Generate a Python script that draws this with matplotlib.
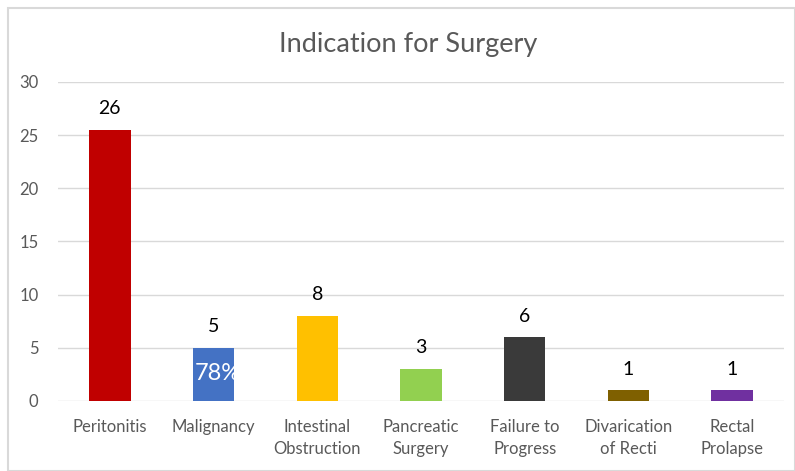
import matplotlib.pyplot as plt
from matplotlib.patches import Rectangle

categories = ['Peritonitis', 'Malignancy', 'Intestinal\nObstruction', 'Pancreatic\nSurgery',
              'Failure to\nProgress', 'Divarication\nof Recti', 'Rectal\nProlapse']
values = [25.5, 5, 8, 3, 6, 1, 1]
labels = ['26', '5', '8', '3', '6', '1', '1']
colors = ['#C00000', '#4472C4', '#FFC000', '#92D050', '#3A3A3A', '#7F6000', '#7030A0']

plt.rcParams['font.family'] = ['Lato', 'DejaVu Sans']
fig = plt.figure(figsize=(7.95, 4.71), dpi=100)
fig.patches.append(Rectangle((0.010, 0.0), 0.99, 0.983, transform=fig.transFigure,
                             fill=False, edgecolor='#D9D9D9', linewidth=1.5))
ax = fig.add_axes([0.073, 0.149, 0.913, 0.677])

x = range(len(categories))
bars = ax.bar(x, values, width=0.4, color=colors, zorder=3)
for b, lab in zip(bars, labels):
    ax.annotate(lab, (b.get_x() + b.get_width() / 2, b.get_height()),
                xytext=(0, 9), textcoords='offset points', ha='center', va='bottom',
                fontsize=14, color='black')
# stray label left inside the Malignancy bar
ax.text(1.04, 2.6, '78%', ha='center', va='center', color='white', fontsize=17, zorder=4)

ax.set_xlim(-0.5, 6.5)
ax.set_ylim(0, 30)
ax.set_yticks([0, 5, 10, 15, 20, 25, 30])
ax.set_xticks(list(x))
ax.set_xticklabels(categories, linespacing=1.5)
ax.tick_params(axis='both', length=0, labelsize=12, labelcolor='#595959')
ax.tick_params(axis='x', pad=13)
ax.tick_params(axis='y', pad=14)
ax.grid(axis='y', color='#D9D9D9', linewidth=1, zorder=0)
for s in ax.spines.values():
    s.set_visible(False)

fig.text(0.513, 0.905, 'Indication for Surgery', ha='center', va='center',
         fontsize=19.5, color='#595959')

fig.savefig('out.png', dpi=100)
